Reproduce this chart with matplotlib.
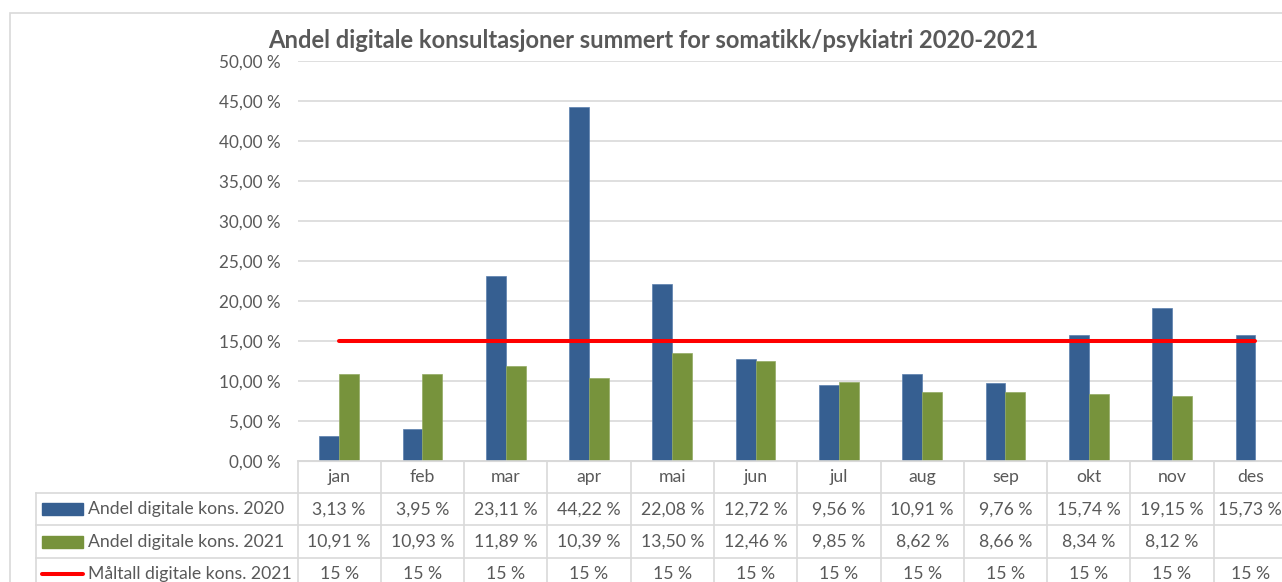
import matplotlib.pyplot as plt
from matplotlib.patches import Rectangle
import numpy as np

plt.rcParams['font.family'] = ['Lato', 'DejaVu Sans']

months = ["jan", "feb", "mar", "apr", "mai", "jun", "jul", "aug", "sep", "okt", "nov", "des"]
kons_2020 = [3.13, 3.95, 23.11, 44.22, 22.08, 12.72, 9.56, 10.91, 9.76, 15.74, 19.15, 15.73]
kons_2021 = [10.91, 10.93, 11.89, 10.39, 13.50, 12.46, 9.85, 8.62, 8.66, 8.34, 8.12, np.nan]
maltall_2021 = [15] * 12
series_names = ["Andel digitale kons. 2020", "Andel digitale kons. 2021", "Måltall digitale kons. 2021"]
title = "Andel digitale konsultasjoner summert for somatikk/psykiatri 2020-2021"

blue = "#365f91"
green = "#77933c"
red = "#ff0000"
grid_c = "#d9d9d9"
text_c = "#595959"

W, H = 1282, 582
fig = plt.figure(figsize=(W / 100, H / 100), dpi=100)

# chart border (runs off the right/bottom of the image like the screenshot)
fig.patches.append(Rectangle((10 / W, -0.1), 1.2, 1 - 13 / H + 0.1, transform=fig.transFigure,
                             fill=False, edgecolor=grid_c, lw=1.2))

# plot area in pixels
px_left, px_right, px_top, px_bottom = 297.5, 1297, 61, 461
ax = fig.add_axes([px_left / W, 1 - px_bottom / H, (px_right - px_left) / W, (px_bottom - px_top) / H])
x = np.arange(len(months))
w = 0.238
ax.bar(x - w / 2, kons_2020, w, color=blue, edgecolor="#5a7fae", lw=0.5, zorder=3)
ax.bar(x + w / 2, kons_2021, w, color=green, edgecolor="#93ab63", lw=0.5, zorder=3)
ax.plot(x, maltall_2021, color=red, lw=2.9, solid_capstyle="round", zorder=4)
ax.set_xlim(-0.5, 11.5)
ax.set_ylim(0, 50)
ax.set_yticks(np.arange(0, 51, 5))
ax.set_yticklabels([f"{v:.2f} %".replace(".", ",") for v in np.arange(0, 51, 5)], color=text_c, fontsize=12.3)
ax.tick_params(axis="y", length=0, pad=12.4)
ax.set_xticks([])
ax.grid(axis="y", color=grid_c, lw=1.2, zorder=0)
for s in ax.spines.values():
    s.set_visible(False)
ax.spines["bottom"].set_visible(True)
ax.spines["bottom"].set_color(grid_c)
ax.set_facecolor("none")

fig.text(653 / W, 1 - 48 / H, title, ha="center", va="baseline", fontsize=17.1, fontweight="bold", color=text_c)

# data table below the plot
unit = (px_right - px_left) / 12
lab_left = 36
row_h = 32.2
tax = fig.add_axes([lab_left / W, 1 - (px_bottom + 4 * row_h) / H, (px_right - lab_left) / W, 4 * row_h / H])
x0 = -0.5 - (px_left - lab_left) / unit
tax.set_xlim(x0, 11.5)
tax.set_ylim(4, 0)
tax.axis("off")
lk = dict(color=grid_c, lw=1.2, clip_on=False)
# horizontal lines
tax.plot([-0.5, 11.5], [0, 0], **lk)
for r in (1, 2, 3):
    tax.plot([x0, 11.5], [r, r], **lk)
# vertical lines
for i in range(13):
    tax.plot([i - 0.5, i - 0.5], [0, 4], **lk)
tax.plot([x0, x0], [1, 4], **lk)

fs = 12.7
for i, m in enumerate(months):
    # last column sits at the image edge, nudge its text in a little
    tx = i - (5 / unit if i == len(months) - 1 else 0)
    tax.text(tx, 0.5, m, ha="center", va="center", fontsize=fs, color=text_c)
    if not np.isnan(kons_2020[i]):
        tax.text(tx, 1.5, f"{kons_2020[i]:.2f} %".replace(".", ","), ha="center", va="center", fontsize=fs, color=text_c)
    if not np.isnan(kons_2021[i]):
        tax.text(tx, 2.5, f"{kons_2021[i]:.2f} %".replace(".", ","), ha="center", va="center", fontsize=fs, color=text_c)
    tax.text(tx, 3.5, f"{maltall_2021[i]} %", ha="center", va="center", fontsize=fs, color=text_c)

# legend keys + row labels
key_l = x0 + 6 / unit
key_r = x0 + 47 / unit
kh = 12 / row_h
tax.add_patch(Rectangle((key_l, 1.5 - kh / 2), key_r - key_l, kh, color=blue, clip_on=False))
tax.add_patch(Rectangle((key_l, 2.5 - kh / 2), key_r - key_l, kh, color=green, clip_on=False))
tax.plot([x0 + 6 / unit, x0 + 47 / unit], [3.5, 3.5], color=red, lw=2.9, solid_capstyle="round", clip_on=False)
for r, name in enumerate(series_names):
    tax.text(x0 + 52 / unit, r + 1.5, name, ha="left", va="center", fontsize=fs, color=text_c)

fig.savefig("out.png", dpi=100)
